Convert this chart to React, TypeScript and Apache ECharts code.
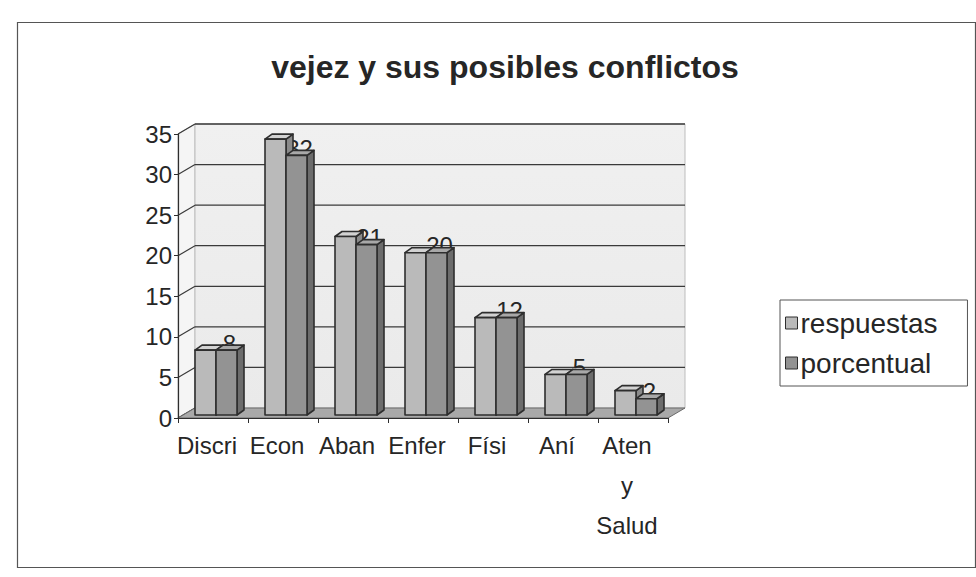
import React, { useEffect, useRef } from "react";
import * as echarts from "echarts";

const categories = ["Discri", "Econ", "Aban", "Enfer", "Físi", "Aní", "Aten\ny\nSalud"];
const respuestas = [8, 34, 22, 20, 12, 5, 3];
const porcentual = [8, 32, 21, 20, 12, 5, 2];
const yTicks = [0, 5, 10, 15, 20, 25, 30, 35];
const seriesNames = ["respuestas", "porcentual"];
const titleText = "vejez y sus posibles conflictos";

const FONT = "'Liberation Sans', Arial, sans-serif";
const TEXT = "#262626";
const EDGE = "#2e2e2e";
const FRONT = ["#bababa", "#939393"];
const TOP = ["#d2d2d2", "#a8a8a8"];
const SIDE = ["#8a8a8a", "#6c6c6c"];

const WALL_DX = 17;
const WALL_DY = 10;
const BAR_W = 21;
const BAR_DX = 7;
const BAR_DY = 5;
const BAR_SHIFT = 3;
const BAR_LIFT = 3;

function wallRender(params: any, api: any) {
  const cs = params.coordSys;
  const L = cs.x;
  const R = cs.x + cs.width;
  const T = cs.y;
  const B = cs.y + cs.height;
  const children: any[] = [
    {
      type: "polygon",
      shape: { points: [[L, T], [L + WALL_DX, T - WALL_DY], [L + WALL_DX, B - WALL_DY], [L, B]] },
      style: { fill: "#f5f5f5", stroke: "#bdbdbd", lineWidth: 1 },
    },
    {
      type: "rect",
      shape: { x: L + WALL_DX, y: T - WALL_DY, width: R - L, height: B - T },
      style: {
        fill: new echarts.graphic.LinearGradient(0, 0, 0, 1, [
          { offset: 0, color: "#f0f0f0" },
          { offset: 1, color: "#eaeaea" },
        ]),
        stroke: "#bdbdbd",
        lineWidth: 1,
      },
    },
  ];
  yTicks.forEach((v) => {
    const y = api.coord([0, v])[1];
    if (v > 0) {
      children.push({
        type: "line",
        shape: { x1: L + WALL_DX, y1: y - WALL_DY, x2: R + WALL_DX, y2: y - WALL_DY },
        style: { stroke: "#3a3a3a", lineWidth: 1.3 },
      });
    }
    children.push({
      type: "line",
      shape: { x1: L, y1: y, x2: L + WALL_DX, y2: y - WALL_DY },
      style: { stroke: "#3a3a3a", lineWidth: 1.2 },
    });
  });
  children.push({
    type: "polygon",
    shape: { points: [[L, B], [R, B], [R + WALL_DX, B - WALL_DY], [L + WALL_DX, B - WALL_DY]] },
    style: { fill: "#a9a9a9", stroke: "#6a6a6a", lineWidth: 1 },
  });
  return { type: "group", children };
}

function barGeom(api: any, idx: number) {
  const cat = api.value(0);
  const val = api.value(1);
  const pTop = api.coord([cat, val]);
  const pBase = api.coord([cat, 0]);
  const x0 = pTop[0] + BAR_SHIFT - BAR_W + idx * BAR_W;
  return { x0, top: pTop[1] - BAR_LIFT, base: pBase[1] - BAR_LIFT };
}

function makeBarRender(idx: number) {
  return (params: any, api: any) => {
    const { x0, top, base } = barGeom(api, idx);
    const x1 = x0 + BAR_W;
    const st = (fill: string) => ({ fill, stroke: EDGE, lineWidth: 1.6, lineJoin: "round" });
    return {
      type: "group",
      children: [
        {
          type: "polygon",
          shape: { points: [[x1, top], [x1 + BAR_DX, top - BAR_DY], [x1 + BAR_DX, base - BAR_DY], [x1, base]] },
          style: st(SIDE[idx]),
        },
        {
          type: "polygon",
          shape: { points: [[x0, top], [x0 + BAR_DX, top - BAR_DY], [x1 + BAR_DX, top - BAR_DY], [x1, top]] },
          style: st(TOP[idx]),
        },
        {
          type: "rect",
          shape: { x: x0, y: top, width: BAR_W, height: base - top },
          style: st(FRONT[idx]),
        },
      ],
    };
  };
}

function labelRender(params: any, api: any) {
  const { x0, top } = barGeom(api, 1);
  return {
    type: "text",
    x: x0 + BAR_W / 2 + 3,
    y: top - 7,
    style: {
      text: String(api.value(1)),
      fill: TEXT,
      fontSize: 24,
      fontFamily: FONT,
      align: "center",
      verticalAlign: "middle",
    },
  };
}

export default function App() {
  const ref = useRef<HTMLDivElement>(null);
  useEffect(() => {
    if (!ref.current) return;
    const chart = echarts.init(ref.current, null, { renderer: "svg" });
    const toPairs = (arr: number[]) => arr.map((v, i) => [i, v]);
    chart.setOption({
      animation: false,
      backgroundColor: "#ffffff",
      title: {
        text: titleText,
        left: 500,
        top: 46,
        textAlign: "center",
        textStyle: { fontFamily: FONT, fontSize: 32, fontWeight: "bold", color: TEXT },
      },
      legend: {
        data: seriesNames,
        orient: "vertical",
        left: 780,
        top: 300,
        icon: "rect",
        itemWidth: 12,
        itemHeight: 12,
        itemGap: 12,
        padding: [9, 30, 9, 5],
        borderColor: "#555555",
        borderWidth: 1,
        itemStyle: { borderColor: EDGE, borderWidth: 1 },
        textStyle: { fontFamily: FONT, fontSize: 28, color: TEXT, padding: [0, 0, 0, -2] },
      },
      graphic: [
        {
          type: "rect",
          left: 15,
          top: 20,
          shape: { width: 958, height: 545 },
          style: { fill: "none", stroke: "#555555", lineWidth: 1.2 },
          silent: true,
        },
      ],
      grid: { left: 178, top: 134, width: 490, height: 284, containLabel: false },
      xAxis: {
        type: "category",
        data: categories,
        axisLine: { show: true, lineStyle: { color: EDGE, width: 1.2 } },
        axisTick: { show: true, length: 5, alignWithLabel: false, lineStyle: { color: EDGE } },
        axisLabel: {
          interval: 0,
          margin: 7,
          fontFamily: FONT,
          fontSize: 24,
          color: TEXT,
          lineHeight: 40,
          padding: [0, 12, 0, 0],
        },
        splitLine: { show: false },
      },
      yAxis: {
        type: "value",
        min: 0,
        max: 35,
        interval: 5,
        axisLine: { show: true, lineStyle: { color: EDGE, width: 1.2 } },
        axisTick: { show: true, length: 4, lineStyle: { color: EDGE } },
        axisLabel: { margin: 6, fontFamily: FONT, fontSize: 24, color: TEXT },
        splitLine: { show: false },
      },
      series: [
        {
          type: "custom",
          name: "wall",
          z: 0,
          silent: true,
          renderItem: wallRender,
          data: [[0, 0]],
        },
        {
          type: "custom",
          name: "labels",
          z: 1,
          silent: true,
          renderItem: labelRender,
          data: toPairs(porcentual),
        },
        {
          type: "custom",
          name: seriesNames[0],
          z: 3,
          itemStyle: { color: FRONT[0] },
          renderItem: makeBarRender(0),
          data: toPairs(respuestas),
        },
        {
          type: "custom",
          name: seriesNames[1],
          z: 3,
          itemStyle: { color: FRONT[1] },
          renderItem: makeBarRender(1),
          data: toPairs(porcentual),
        },
      ],
    });
    return () => chart.dispose();
  }, []);
  return (
    <div
      ref={ref}
      style={{ position: "absolute", left: 0, top: 0, width: 976, height: 577, background: "#ffffff" }}
    />
  );
}
